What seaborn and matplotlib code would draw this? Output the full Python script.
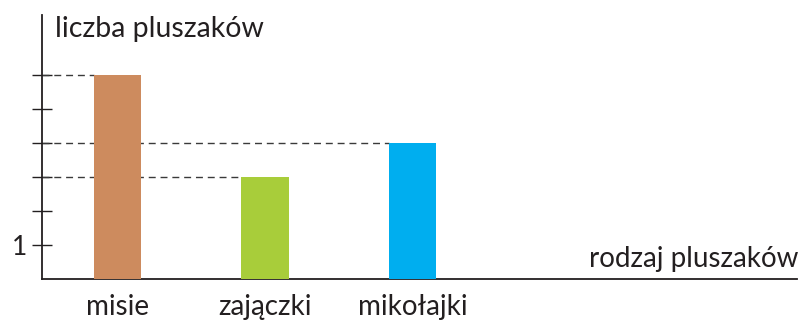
import matplotlib
matplotlib.use("Agg")
import matplotlib.pyplot as plt
import seaborn as sns
import pandas as pd

# ---------------------- DATA ----------------------
categories = ["misie", "zajączki", "mikołajki"]
counts = [6, 3, 4]
colors = ["#CD8B5E", "#A8CD3A", "#00AEEF"]
y_ticks = [1, 2, 3, 4, 5, 6]
y_tick_labels = ["1", "", "", "", "", ""]
# --------------------------------------------------

df = pd.DataFrame({"rodzaj": categories, "liczba": counts})

sns.set_theme(style="white")
plt.rcParams["font.family"] = ["Lato", "DejaVu Sans"]

W, H = 807, 322
fig = plt.figure(figsize=(W / 100, H / 100), dpi=100)
ax = fig.add_axes([42 / W, 43 / H, (797 - 42) / W, (279 - 15) / H])

bar_w = 0.32
sns.barplot(data=df, x="rodzaj", y="liczba", hue="rodzaj", palette=colors,
            width=bar_w, legend=False, saturation=1, linewidth=0, ax=ax, zorder=3)

x_left = -0.512
ax.set_xlim(x_left, 4.607)
ax.set_ylim(0, 7.76)

# dashed guide lines from the axis to each bar
for i, v in enumerate(counts):
    ax.hlines(v, x_left, i - bar_w / 2, colors="#3a3a3a", linestyles=(0, (5, 3.5)),
              linewidth=1.0, zorder=2)

for side in ["top", "right"]:
    ax.spines[side].set_visible(False)
for side in ["left", "bottom"]:
    ax.spines[side].set_color("#231F20")
    ax.spines[side].set_linewidth(1.3)

ax.set_yticks(y_ticks)
ax.set_yticklabels(y_tick_labels)
ax.tick_params(axis="y", direction="inout", length=14, width=1.0, color="#231F20",
               labelsize=19, labelcolor="#231F20", pad=4, left=True)
ax.tick_params(axis="x", length=0, labelsize=20, labelcolor="#231F20", pad=11)
ax.set_xlabel("")
ax.set_ylabel("")

fig.text(55 / W, 1 - 37 / H, "liczba pluszaków", fontsize=20.5, color="#231F20",
         ha="left", va="baseline")
fig.text(798 / W, 1 - 267 / H, "rodzaj pluszaków", fontsize=20, color="#231F20",
         ha="right", va="baseline")

fig.savefig("out.png", dpi=100)
